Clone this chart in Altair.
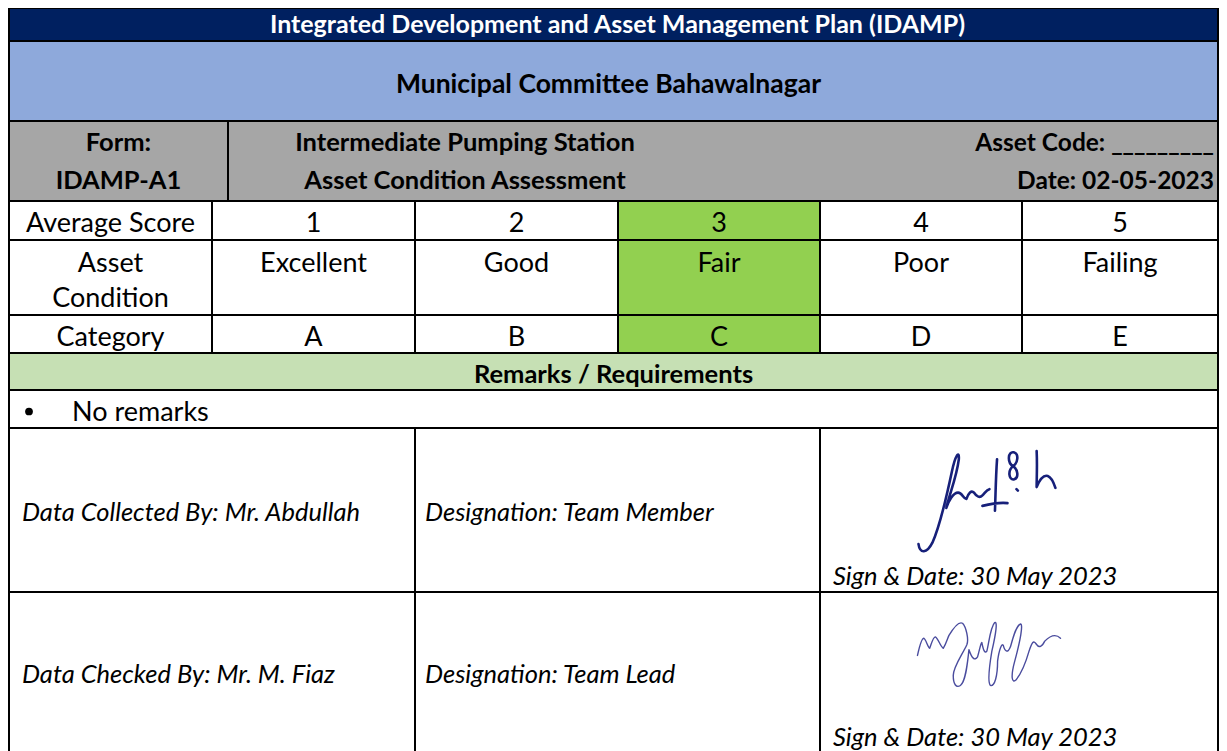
import altair as alt
import pandas as pd

# ---------------- content ----------------
title = "Integrated Development and Asset Management Plan (IDAMP)"
committee = "Municipal Committee Bahawalnagar"
form_code = ["Form:", "IDAMP-A1"]
form_title = ["Intermediate Pumping Station", "Asset Condition Assessment"]
form_meta = ["Asset Code: _________", "Date: 02-05-2023"]
row_labels = [["Average Score"], ["Asset", "Condition"], ["Category"]]
scores = ["1", "2", "3", "4", "5"]
conditions = ["Excellent", "Good", "Fair", "Poor", "Failing"]
categories = ["A", "B", "C", "D", "E"]
assessed_score = "3"
remarks_header = "Remarks / Requirements"
remarks = ["No remarks"]
people = ["Data Collected By: Mr. Abdullah", "Data Checked By: Mr. M. Fiaz"]
designations = ["Designation: Team Member", "Designation: Team Lead"]
sign_dates = ["Sign & Date: 30 May 2023", "Sign & Date: 30 May 2023"]

# ---------------- layout (pixels of the plot area) ----------------
W, H = 1211, 743
X0 = 1
col_w = [203, 203, 203, 202, 202, 196]
row_h = [33, 80, 80, 39, 75, 38, 37, 38, 164, 161]
form_split = 219          # width of the "Form:" cell
form_title_center = 457   # centre of the merged title block
pads = [13, 10, 13]       # left padding of the three signature-row cells

col_e = [X0]
for w in col_w:
    col_e.append(col_e[-1] + w)
row_e = [0]
for h in row_h:
    row_e.append(row_e[-1] + h)
XR = col_e[-1]

FONT = "Lato"
FS = 27        # regular
FS_B = 25.5    # bold
FS_I = 25.5    # italic
NAVY, BLUE, GRAY, GREEN, LGREEN, WHITE = "#002060", "#8EA9DB", "#A6A6A6", "#92D050", "#C6E0B4", "#FFFFFF"


def baselines(r, n, spacing):
    top, bot = row_e[r], row_e[r + 1]
    c = (top + bot) / 2 + 11.5
    return [c + (i - (n - 1) / 2) * spacing for i in range(n)]


# ---------------- cells ----------------
cells = []


def cell(x, x2, r, fill):
    cells.append(dict(x=x, x2=x2, y=row_e[r], y2=row_e[r + 1], fill=fill))


cell(X0, XR, 0, NAVY)
cell(X0, XR, 1, BLUE)
cell(X0, X0 + form_split, 2, GRAY)
cell(X0 + form_split, XR, 2, GRAY)
for i in range(3):
    r = 3 + i
    cell(col_e[0], col_e[1], r, WHITE)
    for j, s in enumerate(scores):
        cell(col_e[j + 1], col_e[j + 2], r, GREEN if s == assessed_score else WHITE)
cell(X0, XR, 6, LGREEN)
cell(X0, XR, 7, WHITE)
for r in (8, 9):
    for a, b in ((0, 2), (2, 4), (4, 6)):
        cell(col_e[a], col_e[b], r, WHITE)
cells_df = pd.DataFrame(cells)

# ---------------- texts ----------------
bold_c, bold_r, reg_c, reg_l, ital_l = [], [], [], [], []
mid = (X0 + XR) / 2
K = "#000000"
bold_c.append(dict(x=mid + 4, y=baselines(0, 1, 0)[0] - 3, t=title, c="#FFFFFF", s=25))
bold_c.append(dict(x=mid - 5, y=baselines(1, 1, 0)[0], t=committee, c=K, s=26.5))
for t, y in zip(form_code, baselines(2, 2, 38)):
    bold_c.append(dict(x=X0 + form_split / 2, y=y - 3, t=t, c=K, s=FS_B))
for t, y in zip(form_title, baselines(2, 2, 38)):
    bold_c.append(dict(x=form_title_center, y=y - 3, t=t, c=K, s=FS_B))
for t, y in zip(form_meta, baselines(2, 2, 38)):
    bold_r.append(dict(x=XR - 4, y=y - 3, t=t, c=K, s=24.5))
bold_c.append(dict(x=mid, y=baselines(6, 1, 0)[0], t=remarks_header, c=K, s=FS_B))

for i, lab in enumerate(row_labels):
    r = 3 + i
    for t, y in zip(lab, baselines(r, len(lab), 35)):
        reg_c.append(dict(x=(col_e[0] + col_e[1]) / 2, y=y, t=t, c=K, s=FS))
for r, vals in ((3, scores), (4, conditions), (5, categories)):
    y = baselines(r, 2, 35)[0] if r == 4 else baselines(r, 1, 0)[0]
    for j, v in enumerate(vals):
        reg_c.append(dict(x=(col_e[j + 1] + col_e[j + 2]) / 2, y=y, t=v, c=K, s=FS))
for t in remarks:
    reg_l.append(dict(x=X0 + 63, y=baselines(7, 1, 0)[0], t=t, c=K, s=FS))

for k, r in enumerate((8, 9)):
    yb = baselines(r, 1, 0)[0] - 1
    ital_l.append(dict(x=col_e[0] + pads[0], y=yb, t=people[k], c=K, s=FS_I))
    ital_l.append(dict(x=col_e[2] + pads[1], y=yb, t=designations[k], c=K, s=FS_I))
    ital_l.append(dict(x=col_e[4] + pads[2], y=row_e[r + 1] - 7, t=sign_dates[k], c=K, s=FS_I))

xs = alt.Scale(domain=[0, W], nice=False, zero=False)
ys = alt.Scale(domain=[0, H], nice=False, zero=False, reverse=True)


def enc_xy():
    return dict(x=alt.X("x:Q", scale=xs, axis=None), y=alt.Y("y:Q", scale=ys, axis=None))


rects = alt.Chart(cells_df).mark_rect(stroke="#000000", strokeWidth=2).encode(
    x=alt.X("x:Q", scale=xs, axis=None), x2="x2:Q",
    y=alt.Y("y:Q", scale=ys, axis=None), y2="y2:Q",
    fill=alt.Fill("fill:N", scale=None),
)


def text_layer(rows, align, weight="normal", style="normal"):
    return alt.Chart(pd.DataFrame(rows)).mark_text(
        font=FONT, fontWeight=weight, fontStyle=style,
        align=align, baseline="alphabetic",
    ).encode(**enc_xy(), text="t:N", color=alt.Color("c:N", scale=None),
             size=alt.Size("s:Q", scale=None))


bullet = alt.Chart(pd.DataFrame([dict(x=X0 + 20, y=baselines(7, 1, 0)[0] - 9)])).mark_point(
    shape="circle", filled=True, size=60, color="#000000", opacity=1
).encode(**enc_xy())

SIG1 = ("M -1.0 0.62 C -0.98 0.76 -0.88 0.76 -0.8 0.6 C -0.7 0.38 -0.62 0.05 -0.52 -0.42 "
        "C -0.47 -0.66 -0.41 -0.74 -0.42 -0.6 C -0.45 -0.35 -0.56 -0.08 -0.6 0.1 "
        "C -0.57 0.0 -0.5 -0.12 -0.43 -0.12 C -0.37 -0.12 -0.35 -0.02 -0.31 -0.03 "
        "C -0.28 -0.12 -0.24 -0.16 -0.2 -0.12 C -0.16 -0.06 -0.12 -0.04 -0.08 -0.08 "
        "C -0.04 -0.12 -0.02 -0.16 0.02 -0.17 "
        "M 0.13 -0.6 C 0.11 -0.3 0.11 -0.1 0.1 0.14 "
        "M -0.08 0.07 C 0.04 0.04 0.18 0.02 0.28 0.03 "
        "M 0.36 -0.5 C 0.27 -0.56 0.29 -0.72 0.37 -0.7 C 0.45 -0.68 0.43 -0.55 0.36 -0.5 "
        "C 0.28 -0.44 0.3 -0.3 0.37 -0.31 C 0.45 -0.33 0.43 -0.46 0.36 -0.5 "
        "M 0.41 -0.17 L 0.43 -0.15 "
        "M 0.7 -0.72 C 0.71 -0.5 0.7 -0.35 0.7 -0.2 C 0.74 -0.3 0.8 -0.38 0.86 -0.36 "
        "C 0.92 -0.34 0.95 -0.25 0.97 -0.19")

SIG2 = ("M -1.0 0.02 C -0.97 -0.12 -0.94 -0.22 -0.91 -0.22 C -0.88 -0.2 -0.86 -0.1 -0.83 -0.08 "
        "C -0.8 -0.16 -0.78 -0.24 -0.75 -0.24 C -0.71 -0.22 -0.68 -0.1 -0.64 -0.08 "
        "C -0.6 -0.14 -0.58 -0.22 -0.56 -0.26 C -0.5 -0.36 -0.42 -0.46 -0.37 -0.43 "
        "C -0.32 -0.38 -0.28 -0.2 -0.31 -0.13 C -0.38 0.02 -0.5 0.18 -0.5 0.3 "
        "C -0.5 0.42 -0.46 0.48 -0.4 0.44 C -0.32 0.38 -0.3 0.1 -0.28 -0.06 "
        "C -0.24 0.06 -0.2 0.1 -0.16 0.04 C -0.13 -0.06 -0.12 -0.14 -0.1 -0.16 "
        "C -0.08 -0.06 -0.06 0.0 -0.03 -0.04 C 0.0 -0.16 0.02 -0.38 0.08 -0.44 "
        "C 0.12 -0.46 0.1 -0.3 0.04 -0.04 C 0.0 0.2 -0.02 0.4 0.02 0.44 "
        "C 0.08 0.46 0.12 0.3 0.12 0.1 C 0.14 -0.06 0.18 -0.16 0.2 -0.12 "
        "C 0.22 -0.04 0.26 0.0 0.3 -0.1 C 0.34 -0.24 0.38 -0.4 0.44 -0.42 "
        "C 0.48 -0.42 0.44 -0.2 0.36 0.1 C 0.3 0.32 0.32 0.42 0.38 0.36 "
        "C 0.46 0.26 0.52 0.1 0.56 -0.04 C 0.6 -0.16 0.62 -0.2 0.66 -0.14 "
        "C 0.7 -0.08 0.74 -0.1 0.78 -0.18 C 0.86 -0.26 0.94 -0.28 1.0 -0.22")

sig1 = alt.Chart(pd.DataFrame([dict(x=col_e[4] + 168, y=row_e[8] + 73)])).mark_point(
    shape=SIG1, filled=False, size=139 ** 2, color="#17207a", strokeWidth=2.6,
    strokeCap="round", strokeJoin="round", opacity=1,
).encode(**enc_xy())
sig2 = alt.Chart(pd.DataFrame([dict(x=col_e[4] + 169, y=row_e[9] + 62)])).mark_point(
    shape=SIG2, filled=False, size=143 ** 2, color="#4a4c9e", strokeWidth=1.4,
    strokeCap="round", strokeJoin="round", opacity=1,
).encode(**enc_xy())

chart = alt.layer(
    rects,
    text_layer(bold_c, "center", weight="bold"),
    text_layer(bold_r, "right", weight="bold"),
    text_layer(reg_c, "center"),
    text_layer(reg_l, "left"),
    text_layer(ital_l, "left", style="italic"),
    bullet, sig1, sig2,
).properties(
    width=W, height=H, padding=0, autosize=alt.AutoSizeParams(type="none"),
    background="#FFFFFF",
).configure_view(stroke=None)

chart.save("out.html", embed_options={"renderer": "svg", "actions": False})
